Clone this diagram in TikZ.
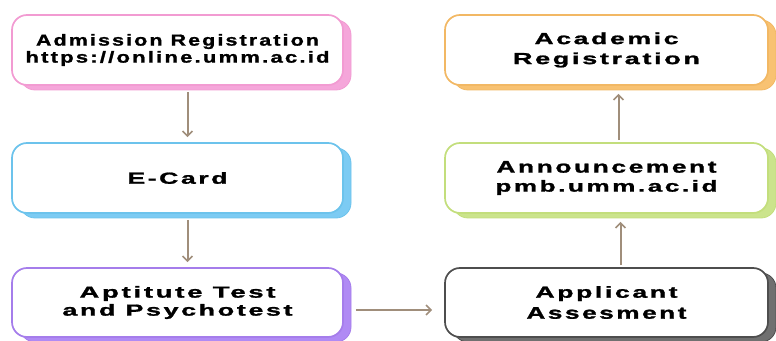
\documentclass[tikz,border=0pt]{standalone}
\usepackage{fontspec}
\usepackage{graphicx}
\setmainfont{Liberation Sans}[LetterSpace=10, BoldFeatures={FakeBold=1.2}]
\usetikzlibrary{arrows.meta,shadows}
\definecolor{cpink}{HTML}{F29BD2}
\definecolor{cpinks}{HTML}{F5A6DA}
\definecolor{cblue}{HTML}{6CC3EC}
\definecolor{cblues}{HTML}{7CCBF3}
\definecolor{cpurp}{HTML}{A57DEB}
\definecolor{cpurps}{HTML}{B08AF4}
\definecolor{corng}{HTML}{F2B864}
\definecolor{corngs}{HTML}{F8C272}
\definecolor{cgrn}{HTML}{C3DE7C}
\definecolor{cgrns}{HTML}{CBE48C}
\definecolor{cgray}{HTML}{4E4E4E}
\definecolor{cgrays}{HTML}{707070}
\definecolor{carrow}{HTML}{A08E7B}
\newcommand\tline[2]{\resizebox{#1pt}{11.6pt}{\bfseries #2}}
\tikzset{
  stepbox/.style n args={2}{draw=#1, line width=1.7pt, fill=white, rounded corners=15pt,
    align=center, inner sep=0pt,
    copy shadow={shadow xshift=8pt, shadow yshift=-5pt, fill=#2, draw=#1, line width=0.8pt}},
  gap/.style={font=\fontsize{16}{#1}\selectfont},
  flow/.style={draw=carrow, line width=2pt, -{Straight Barb[length=5pt,width=10pt,line width=1.6pt]}}
}
\begin{document}
\begin{tikzpicture}[x=1pt,y=1pt]
\useasboundingbox (0,0) rectangle (776,340);
\node[stepbox={cpink}{cpinks}, gap=17pt, minimum width=331pt, minimum height=70pt] (b1) at (177.5,290)
  {\tline{283}{Admission Registration}\\\tline{304}{https://online.umm.ac.id}};
\node[stepbox={cblue}{cblues}, gap=17pt, minimum width=331pt, minimum height=70pt] (b2) at (177.5,162)
  {\tline{100}{E-Card}};
\node[stepbox={cpurp}{cpurps}, gap=18pt, minimum width=331pt, minimum height=69pt] (b3) at (177.5,37.5)
  {\tline{196}{Aptitute Test}\\\tline{230}{and Psychotest}};
\node[stepbox={cgray}{cgrays}, gap=21pt, minimum width=323pt, minimum height=69pt] (b4) at (606.5,37.5)
  {\tline{142}{Applicant}\\\tline{160}{Assesment}};
\node[stepbox={cgrn}{cgrns}, gap=19pt, minimum width=323pt, minimum height=70pt] (b5) at (606.5,162)
  {\tline{220}{Announcement}\\\tline{222}{pmb.umm.ac.id}};
\node[stepbox={corng}{corngs}, gap=20pt, minimum width=323pt, minimum height=70pt] (b6) at (606.5,290)
  {\tline{144}{Academic}\\\tline{187}{Registration}};
\draw[flow] ([xshift=10pt,yshift=-6pt]b1.south) -- ([xshift=10pt,yshift=5pt]b2.north);
\draw[flow] ([xshift=10pt,yshift=-6pt]b2.south) -- ([xshift=10pt,yshift=5pt]b3.north);
\draw[flow] ([xshift=12pt,yshift=-7.5pt]b3.east) -- ([xshift=-12pt,yshift=-7.5pt]b4.west);
\draw[flow] ([xshift=14pt,yshift=2pt]b4.north) -- ([xshift=14pt,yshift=-8pt]b5.south);
\draw[flow] ([xshift=12pt,yshift=2pt]b5.north) -- ([xshift=12pt,yshift=-8pt]b6.south);
\end{tikzpicture}
\end{document}
